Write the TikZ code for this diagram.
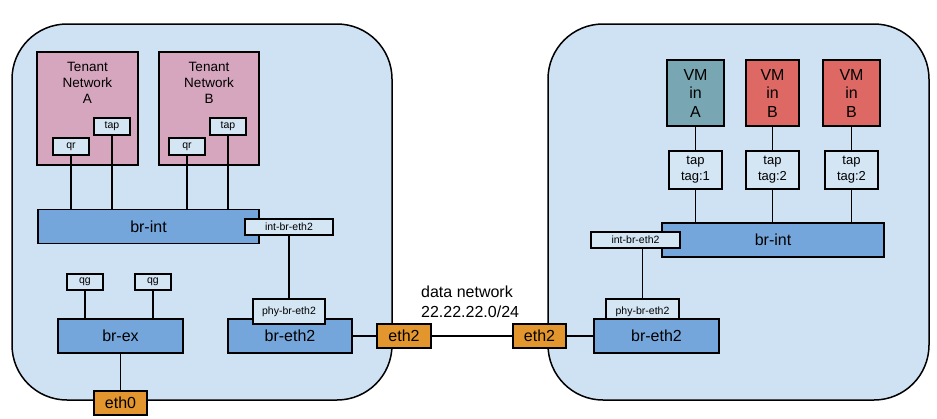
\documentclass[tikz,border=0pt]{standalone}
\usepackage{fontspec}
\setmainfont{Liberation Sans}
\usetikzlibrary{positioning,calc}

\definecolor{hostblue}{HTML}{CFE2F3}
\definecolor{portblue}{HTML}{D4E5F4}
\definecolor{bridgeblue}{HTML}{74A6DC}
\definecolor{tenantpink}{HTML}{D5A6BD}
\definecolor{nicorange}{HTML}{E3952E}
\definecolor{vmteal}{HTML}{78A6B2}
\definecolor{vmred}{HTML}{DD6864}

\begin{document}
\begin{tikzpicture}[x=1pt, y=-1pt,
        host/.style={rectangle, draw, line width=1.5pt, fill=hostblue, rounded corners=55pt, minimum width=380pt, minimum height=376pt},
        tenant/.style={rectangle, draw, line width=1.4pt, fill=tenantpink, minimum width=101pt, minimum height=113pt},
        tenlabel/.style={inner sep=0pt, align=center, font=\fontsize{13.5}{16}\selectfont},
        port/.style={rectangle, draw, line width=1.4pt, fill=portblue, inner sep=0pt, minimum width=36pt, minimum height=17pt, font=\fontsize{10.5}{12}\selectfont},
        tagport/.style={port, minimum width=53pt, minimum height=38pt, align=center, font=\fontsize{13}{16}\selectfont},
        bridge/.style={rectangle, draw, line width=1.4pt, fill=bridgeblue, inner sep=0pt, minimum height=34pt, font=\fontsize{16}{18}\selectfont},
        nic/.style={rectangle, draw, line width=1.4pt, fill=nicorange, inner sep=0pt, minimum width=54pt, minimum height=24pt, font=\fontsize{16}{18}\selectfont},
        vm/.style={rectangle, draw, line width=1.4pt, inner sep=0pt, minimum width=56pt, minimum height=66pt, align=center, font=\fontsize{16}{18.5}\selectfont},
        link/.style={line width=1.4pt}]

        \useasboundingbox (0,0) rectangle (937,418);

        % Hosts
        \node[host] (hostL) at (202, 212) {};
        \node[host, minimum width=381pt] (hostR) at (738.5, 212) {};

        % Network node: tenant networks
        \node[tenant] (tenA) at (87.5, 108.5) {};
        \node[tenlabel, below=11pt of tenA.north] {Tenant\\Network\\A};
        \node[port] (tapA) at (112, 126.5) {tap};
        \node[port] (qrA) at (71, 146.5) {qr};

        \node[tenant, minimum width=100pt] (tenB) at (209, 108.5) {};
        \node[tenlabel, below=11pt of tenB.north] {Tenant\\Network\\B};
        \node[port] (tapB) at (228, 126.5) {tap};
        \node[port] (qrB) at (187, 146.5) {qr};

        % Network node: bridges
        \node[bridge, minimum width=221pt] (brintL) at (148.5, 226.5) {br-int};
        \node[port, minimum width=88pt, minimum height=16pt] (intL) at (289, 227) {int-br-eth2};

        \node[port] (qg1) at (85, 282) [minimum height=16pt] {qg};
        \node[port] (qg2) at (153, 282) [minimum height=16pt] {qg};
        \node[bridge, minimum width=125pt] (brex) at (120.5, 336) {br-ex};
        \node[nic, minimum width=53pt] (eth0) at (120.5, 403) {eth0};

        \node[bridge, minimum width=124pt] (brethL) at (290, 336) {br-eth2};
        \node[port, minimum width=72pt, minimum height=25pt] (phyL) at (289, 311.5) {phy-br-eth2};
        \node[nic] (ethL) at (404, 336) {eth2};

        \draw[link] (qrA) -- (qrA |- brintL.north);
        \draw[link] (tapA) -- (tapA |- brintL.north);
        \draw[link] (qrB) -- (qrB |- brintL.north);
        \draw[link] (tapB) -- (tapB |- brintL.north);
        \draw[link] (intL) -- (phyL);
        \draw[link] (qg1) -- (qg1 |- brex.north);
        \draw[link] (qg2) -- (qg2 |- brex.north);
        \draw[link] (brex) -- (eth0);
        \draw[link] (brethL) -- (ethL);

        % Compute node: VMs
        \node[vm, fill=vmteal, minimum width=57pt] (vmA) at (695.5, 93) {VM\\in\\A};
        \node[vm, fill=vmred, minimum width=53pt] (vmB1) at (772.5, 93) {VM\\in\\B};
        \node[vm, fill=vmred, minimum width=57pt] (vmB2) at (851.5, 93) {VM\\in\\B};

        \node[tagport] (tag1) at (695.5, 170) {tap\\tag:1};
        \node[tagport] (tag2) at (772.5, 170) {tap\\tag:2};
        \node[tagport] (tag3) at (851.5, 170) {tap\\tag:2};

        % Compute node: bridges
        \node[bridge, minimum width=222pt] (brintR) at (773, 240) {br-int};
        \node[port, minimum width=89pt, minimum height=16pt] (intR) at (635.5, 240) {int-br-eth2};
        \node[port, minimum width=73pt, minimum height=25pt] (phyR) at (642.5, 311.5) {phy-br-eth2};
        \node[bridge, minimum width=125pt] (brethR) at (656.5, 336) {br-eth2};
        \node[nic, minimum width=53pt] (ethR) at (539.5, 336) {eth2};

        \draw[link] (vmA) -- (tag1);
        \draw[link] (vmB1) -- (tag2);
        \draw[link] (vmB2) -- (tag3);
        \draw[link] (tag1) -- (tag1 |- brintR.north);
        \draw[link] (tag2) -- (tag2 |- brintR.north);
        \draw[link] (tag3) -- (tag3 |- brintR.north);
        \draw[link] (phyR.north) -- (phyR.north |- intR.south);
        \draw[link] (ethR) -- (brethR);

        % Data network
        \draw[link] (ethL) -- (ethR);
        \node[inner sep=0pt, align=left, anchor=west, font=\fontsize{16}{20}\selectfont] (datanet) at (421, 302) {data network\\22.22.22.0/24};

    \end{tikzpicture}
\end{document}
